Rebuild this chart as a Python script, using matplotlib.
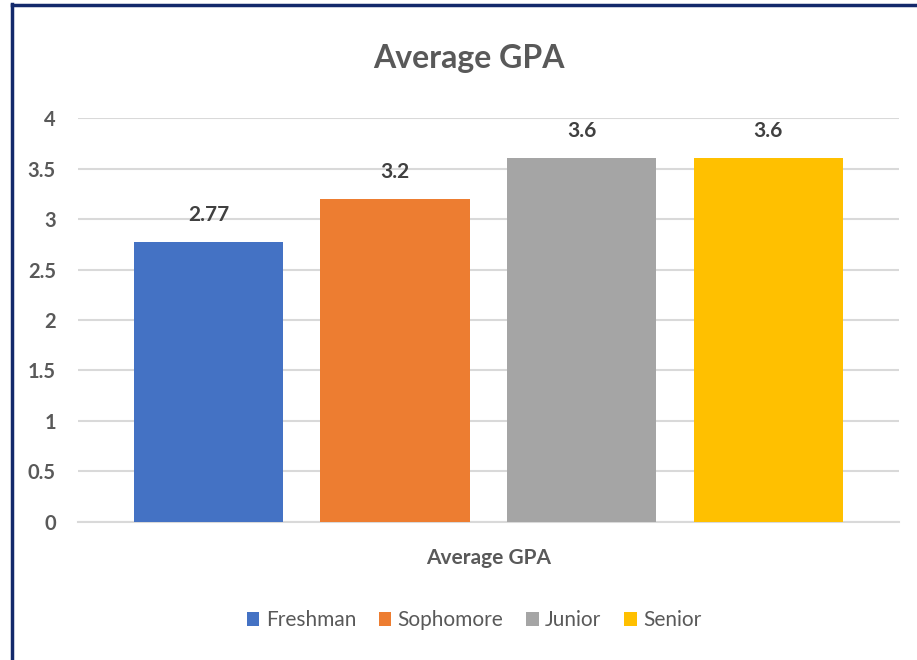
import matplotlib.pyplot as plt
from matplotlib.lines import Line2D
from matplotlib.patches import Patch

classes = ["Freshman", "Sophomore", "Junior", "Senior"]
gpa = [2.77, 3.2, 3.6, 3.6]
colors = ["#4472C4", "#ED7D31", "#A5A5A5", "#FFC000"]
yticks = [0, 0.5, 1, 1.5, 2, 2.5, 3, 3.5, 4]

plt.rcParams['font.family'] = ['Lato', 'DejaVu Sans']

fig = plt.figure(figsize=(9.17, 6.6), dpi=100)
ax = fig.add_axes([0.0851, 0.2091, 0.8949, 0.6121])

x = range(len(classes))
bars = ax.bar(x, gpa, width=0.8, color=colors, zorder=3)
for b, v in zip(bars, gpa):
    ax.text(b.get_x() + b.get_width() / 2, v + 0.17, f"{v:g}", ha="center", va="bottom",
            fontsize=15, fontweight="bold", color="#404040")

ax.set_xlim(-0.7, 3.7)
ax.set_ylim(0, 4)
ax.set_yticks(yticks)
ax.set_yticklabels([f"{t:g}" for t in yticks], fontsize=14.5, fontweight="bold", color="#595959")
ax.set_xticks([])
ax.tick_params(axis="y", length=0, pad=16)
ax.grid(axis="y", color="#D9D9D9", linewidth=1.5, zorder=0)
for s in ["top", "right", "left"]:
    ax.spines[s].set_visible(False)
ax.spines["bottom"].set_color("#D9D9D9")
ax.spines["bottom"].set_linewidth(1.5)

fig.text(0.5115, 0.912, "Average GPA", ha="center", va="center", fontsize=23,
         fontweight="bold", color="#595959")
fig.text(0.533, 0.154, "Average GPA", ha="center", va="center", fontsize=15,
         fontweight="bold", color="#595959")

handles = [Patch(facecolor=c, edgecolor="none") for c in colors]
fig.legend(handles, classes, loc="center", bbox_to_anchor=(0.517, 0.06), ncol=4,
           frameon=False, fontsize=15, labelcolor="#595959", handlelength=0.6,
           handleheight=0.6, handletextpad=0.3, columnspacing=1.1)

# screenshot border (left and top only)
fig.add_artist(Line2D([11.5 / 917, 11.5 / 917], [0, 1 - 4 / 660], transform=fig.transFigure,
                      color="#13296B", linewidth=2.5))
fig.add_artist(Line2D([11.5 / 917, 1], [1 - 5 / 660, 1 - 5 / 660], transform=fig.transFigure,
                      color="#13296B", linewidth=2.5))

fig.savefig("out.png", dpi=100)
